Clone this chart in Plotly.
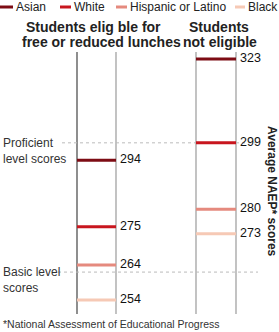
import plotly.graph_objects as go

groups = ["Asian", "White", "Hispanic or Latino", "Black"]
eligible = [294, 275, 264, 254]
not_eligible = [323, 299, 280, 273]
colors = ["#7d0c14", "#c8161e", "#e58a7e", "#f6c9b5"]
column_titles = [["Students elig ble for", "free or reduced lunches"], ["Students", "not eligible"]]
proficient_score = 299
basic_score = 262
axis_title = "Average NAEP* scores"
footnote = "*National Assessment of Educational Progress"

W, H = 279, 332
FONT = "Arial, Liberation Sans, sans-serif"
y_lo, y_hi = 250, 325
k = 262 / 75.0
ymax = y_hi + 52 / k
ymin = ymax - H / k

cols = [(77, 116), (196, 236)]

fig = go.Figure()

shapes = []
for i, (l, r) in enumerate(cols):
    for j, xx in enumerate((l, r)):
        c = "#444444" if (i == 0 and j == 0) else "#9a9a9a"
        shapes.append(dict(type="line", xref="x", yref="y", x0=xx, x1=xx, y0=y_lo, y1=y_hi,
                           line=dict(color=c, width=1.2), layer="below"))

shapes.append(dict(type="line", xref="x", yref="y", x0=62, x1=258, y0=proficient_score, y1=proficient_score,
                   line=dict(color="#bbbbbb", width=1, dash="3px,3px"), layer="below"))
shapes.append(dict(type="line", xref="x", yref="y", x0=58, x1=258, y0=basic_score, y1=basic_score,
                   line=dict(color="#bbbbbb", width=1, dash="3px,3px"), layer="below"))

annotations = []
for g, e, n, c in zip(groups, eligible, not_eligible, colors):
    (l1, r1), (l2, r2) = cols
    fig.add_trace(go.Scatter(x=[l1, r1, None, l2, r2], y=[e, e, None, n, n], mode="lines",
                             line=dict(color=c, width=3), name=g, hoverinfo="skip", showlegend=False))
    for xx, v in ((r1, e), (r2, n)):
        annotations.append(dict(x=xx + 2, y=v, xref="x", yref="y", text=str(v), showarrow=False,
                                xanchor="left", yanchor="middle", yshift=1,
                                font=dict(family=FONT, size=12.5, color="#111111")))

leg_x = [0, 60, 116, 235]
leg_w = [13, 11, 11, 10]
for g, c, lx, lw in zip(groups, colors, leg_x, leg_w):
    shapes.append(dict(type="line", xref="x", yref="paper", x0=lx, x1=lx + lw, y0=1 - 7 / H, y1=1 - 7 / H,
                       line=dict(color=c, width=3)))
    annotations.append(dict(x=lx + lw + 1, y=1 - 7 / H, xref="x", yref="paper", text=g, showarrow=False,
                            xanchor="left", yanchor="middle",
                            font=dict(family=FONT, size=12, color="#222222")))

title_centers = [[93.5, 101.5], [218.5, 220]]
for lines, centers in zip(column_titles, title_centers):
    for li, (t, cx) in enumerate(zip(lines, centers)):
        annotations.append(dict(x=cx, y=1 - (27 + 15 * li) / H, xref="x", yref="paper", text="<b>" + t + "</b>",
                                showarrow=False, xanchor="center", yanchor="middle",
                                font=dict(family=FONT, size=14, color="#222222")))

annotations.append(dict(x=1, y=1 - 151 / H, xref="x", yref="paper", text="Proficient<br>level scores",
                        showarrow=False, xanchor="left", yanchor="middle", align="left",
                        font=dict(family=FONT, size=12, color="#333333")))
annotations.append(dict(x=1, y=1 - 280 / H, xref="x", yref="paper", text="Basic level<br>scores",
                        showarrow=False, xanchor="left", yanchor="middle", align="left",
                        font=dict(family=FONT, size=12, color="#333333")))

annotations.append(dict(x=272, y=1 - 191 / H, xref="x", yref="paper", text="<b>" + axis_title + "</b>",
                        showarrow=False, textangle=90, xanchor="center", yanchor="middle",
                        font=dict(family=FONT, size=12, color="#222222")))

annotations.append(dict(x=1, y=1 - 324 / H, xref="x", yref="paper", text=footnote,
                        showarrow=False, xanchor="left", yanchor="middle",
                        font=dict(family=FONT, size=10.5, color="#333333")))

fig.update_layout(
    width=W, height=H, margin=dict(l=0, r=0, t=0, b=0),
    paper_bgcolor="white", plot_bgcolor="white",
    xaxis=dict(range=[0, W], visible=False, fixedrange=True, domain=[0, 1]),
    yaxis=dict(range=[ymin, ymax], visible=False, fixedrange=True, domain=[0, 1]),
    shapes=shapes, annotations=annotations, showlegend=False,
)

fig.write_html("out.html", config={"displayModeBar": False, "staticPlot": True})
